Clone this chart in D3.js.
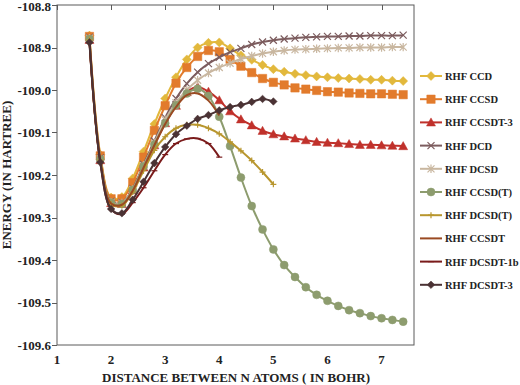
<!DOCTYPE html>
<html><head><meta charset="utf-8">
<script src="https://cdn.jsdelivr.net/npm/d3@7"></script>
<style>body{margin:0;background:#fff}svg{display:block}</style>
</head><body><svg id="c" width="520" height="385"></svg>
<script>
const distance = [1.6,1.8,2.0,2.2,2.4,2.6,2.8,3.0,3.2,3.4,3.6,3.8,4.0,4.2,4.4,4.6,4.8,5.0,5.2,5.4,5.6,5.8,6.0,6.2,6.4,6.6,6.8,7.0,7.2,7.4];
const xTicks = [1,2,3,4,5,6,7];
const yTicks = [-109.6,-109.5,-109.4,-109.3,-109.2,-109.1,-109.0,-108.9,-108.8];
const seriesNames = ["RHF CCD","RHF CCSD","RHF CCSDT-3","RHF DCD","RHF DCSD","RHF CCSD(T)","RHF DCSD(T)","RHF CCSDT","RHF DCSDT-1b","RHF DCSDT-3"];
const ccd = [-108.872,-109.152,-109.253,-109.252,-109.208,-109.145,-109.080,-109.020,-108.970,-108.928,-108.900,-108.889,-108.888,-108.902,-108.918,-108.929,-108.941,-108.951,-108.957,-108.962,-108.965,-108.968,-108.970,-108.972,-108.973,-108.974,-108.976,-108.976,-108.978,-108.979];
const ccsd = [-108.874,-109.155,-109.256,-109.256,-109.218,-109.158,-109.095,-109.037,-108.984,-108.947,-108.921,-108.907,-108.910,-108.928,-108.944,-108.959,-108.973,-108.982,-108.988,-108.995,-108.998,-109.001,-109.004,-109.005,-109.007,-109.008,-109.009,-109.009,-109.010,-109.011];
const ccsdt3 = [-108.882,-109.165,-109.266,-109.268,-109.236,-109.182,-109.130,-109.078,-109.037,-109.005,-108.993,-109.004,-109.024,-109.050,-109.069,-109.083,-109.096,-109.104,-109.109,-109.114,-109.118,-109.122,-109.124,-109.125,-109.127,-109.129,-109.129,-109.130,-109.131,-109.132];
const dcd = [-108.876,-109.160,-109.262,-109.265,-109.232,-109.175,-109.120,-109.065,-109.020,-108.985,-108.958,-108.938,-108.923,-108.911,-108.902,-108.893,-108.887,-108.883,-108.880,-108.878,-108.876,-108.875,-108.874,-108.874,-108.873,-108.873,-108.872,-108.872,-108.872,-108.871];
const dcsd = [-108.878,-109.162,-109.264,-109.266,-109.234,-109.178,-109.125,-109.070,-109.030,-109.000,-108.977,-108.960,-108.947,-108.937,-108.927,-108.920,-108.914,-108.910,-108.907,-108.905,-108.904,-108.903,-108.902,-108.901,-108.901,-108.900,-108.900,-108.900,-108.899,-108.899];
const ccsdT = [-108.880,-109.163,-109.265,-109.268,-109.235,-109.180,-109.128,-109.078,-109.036,-109.008,-108.997,-109.014,-109.063,-109.132,-109.206,-109.273,-109.328,-109.375,-109.412,-109.440,-109.464,-109.482,-109.496,-109.508,-109.518,-109.525,-109.532,-109.537,-109.541,-109.545];
const dcsdT = [-108.882,-109.165,-109.268,-109.272,-109.240,-109.190,-109.142,-109.110,-109.090,-109.082,-109.082,-109.090,-109.103,-109.122,-109.143,-109.166,-109.193,-109.222];
const ccsdtFull = [-108.882,-109.165,-109.267,-109.270,-109.237,-109.183,-109.130,-109.080,-109.040,-109.012,-109.008,-109.025,-109.060];
const dcsdt1b = [-108.888,-109.170,-109.280,-109.292,-109.265,-109.230,-109.190,-109.152,-109.126,-109.115,-109.114,-109.126,-109.158];
const dcsdt3 = [-108.888,-109.170,-109.280,-109.290,-109.258,-109.216,-109.172,-109.134,-109.104,-109.084,-109.068,-109.059,-109.048,-109.040,-109.035,-109.028,-109.021,-109.027];

const styles = [
  {c:"#E2B83C", m:"diamond", s:4.5},
  {c:"#E27B2C", m:"square", s:4.2},
  {c:"#C0312B", m:"triangle", s:4.5},
  {c:"#7C5C5E", m:"x", s:3.5},
  {c:"#C9B7A0", m:"star", s:3.5},
  {c:"#8D9C6E", m:"circle", s:4},
  {c:"#B8962E", m:"plus", s:3},
  {c:"#9A4A22", m:"none", s:0},
  {c:"#7A1B1B", m:"dash", s:3},
  {c:"#4A3234", m:"diamond", s:3.8}
];
const values = [ccd, ccsd, ccsdt3, dcd, dcsd, ccsdT, dcsdT, ccsdtFull, dcsdt1b, dcsdt3];

const svg = d3.select("#c");
const x = d3.scaleLinear().domain([1, 7.6]).range([57, 414]);
const y = d3.scaleLinear().domain([-109.6, -108.8]).range([345, 5]);
const font = "'Liberation Serif', 'DejaVu Serif', serif";

svg.append("rect").attr("x",57).attr("y",5).attr("width",357).attr("height",340)
  .attr("fill","none").attr("stroke","#5a5a5a").attr("stroke-width",1);

svg.append("g").selectAll("line").data(yTicks).join("line")
  .attr("x1",52).attr("x2",57).attr("y1",d=>Math.round(y(d))+0.5).attr("y2",d=>Math.round(y(d))+0.5)
  .attr("stroke","#5a5a5a");
svg.append("g").selectAll("text").data(yTicks).join("text")
  .attr("x",51).attr("y",d=>Math.max(y(d)+4.5, 10.5)).attr("text-anchor","end")
  .attr("font-family",font).attr("font-weight","bold").attr("font-size",13).attr("fill","#222")
  .text(d=>d.toFixed(1));
svg.append("g").selectAll("line").data(xTicks).join("line")
  .attr("x1",d=>Math.round(x(d))+0.5).attr("x2",d=>Math.round(x(d))+0.5).attr("y1",5).attr("y2",10)
  .attr("stroke","#5a5a5a");
svg.append("g").selectAll("text").data(xTicks).join("text")
  .attr("x",d=>x(d)).attr("y",364).attr("text-anchor","middle")
  .attr("font-family",font).attr("font-weight","bold").attr("font-size",13).attr("fill","#222")
  .text(d=>d);

svg.append("text").attr("x",236).attr("y",382).attr("text-anchor","middle")
  .attr("font-family",font).attr("font-weight","bold").attr("font-size",13).attr("fill","#222")
  .text("DISTANCE BETWEEN N ATOMS ( IN BOHR)");
svg.append("text").attr("transform","translate(11,175) rotate(-90)").attr("text-anchor","middle")
  .attr("font-family",font).attr("font-weight","bold").attr("font-size",13).attr("fill","#222")
  .text("ENERGY (IN HARTREE)");

function markerPath(m, s){
  switch(m){
    case "diamond": return `M0,${-s}L${s},0L0,${s}L${-s},0Z`;
    case "square": return `M${-s},${-s}H${s}V${s}H${-s}Z`;
    case "triangle": return `M0,${-s}L${s},${s*0.8}H${-s}Z`;
    case "x": return `M${-s},${-s}L${s},${s}M${-s},${s}L${s},${-s}`;
    case "star": return `M${-s},${-s}L${s},${s}M${-s},${s}L${s},${-s}M0,${-s*1.2}V${s*1.2}`;
    case "plus": return `M0,${-s}V${s}M${-s},0H${s}`;
    case "dash": return `M${-s},0H${s}`;
    case "circle": return d3.symbol(d3.symbolCircle, Math.PI*s*s)();
    default: return "";
  }
}
const filled = {diamond:1, square:1, triangle:1, circle:1};

const line = d3.line().x(d=>x(d[0])).y(d=>y(d[1])).curve(d3.curveCatmullRom.alpha(0.5));

const plot = svg.append("g");
values.forEach((vals, i) => {
  const st = styles[i];
  const pts = vals.map((v, j) => [distance[j], v]);
  const g = plot.append("g");
  g.append("path").attr("d", line(pts)).attr("fill","none").attr("stroke",st.c).attr("stroke-width",2);
  if (st.m !== "none") {
    g.selectAll("path.m").data(pts).join("path").attr("class","m")
      .attr("transform", d=>`translate(${x(d[0])},${y(d[1])})`)
      .attr("d", markerPath(st.m, st.s))
      .attr("fill", filled[st.m] ? st.c : "none")
      .attr("stroke", st.c).attr("stroke-width", filled[st.m] ? 0.5 : 1.2);
  }
});

const lg = svg.append("g");
seriesNames.forEach((name, i) => {
  const st = styles[i];
  const yy = 76 + i*23.2;
  lg.append("line").attr("x1",420).attr("x2",442).attr("y1",yy).attr("y2",yy).attr("stroke",st.c).attr("stroke-width",2);
  if (st.m !== "none") {
    lg.append("path").attr("transform",`translate(431,${yy})`).attr("d", markerPath(st.m, st.s))
      .attr("fill", filled[st.m] ? st.c : "none").attr("stroke", st.c).attr("stroke-width", filled[st.m] ? 0.5 : 1.2);
  }
  lg.append("text").attr("x",445).attr("y",yy+4).attr("font-family",font).attr("font-weight","bold")
    .attr("font-size",10.5).attr("fill","#222").text(name);
});
</script></body></html>
